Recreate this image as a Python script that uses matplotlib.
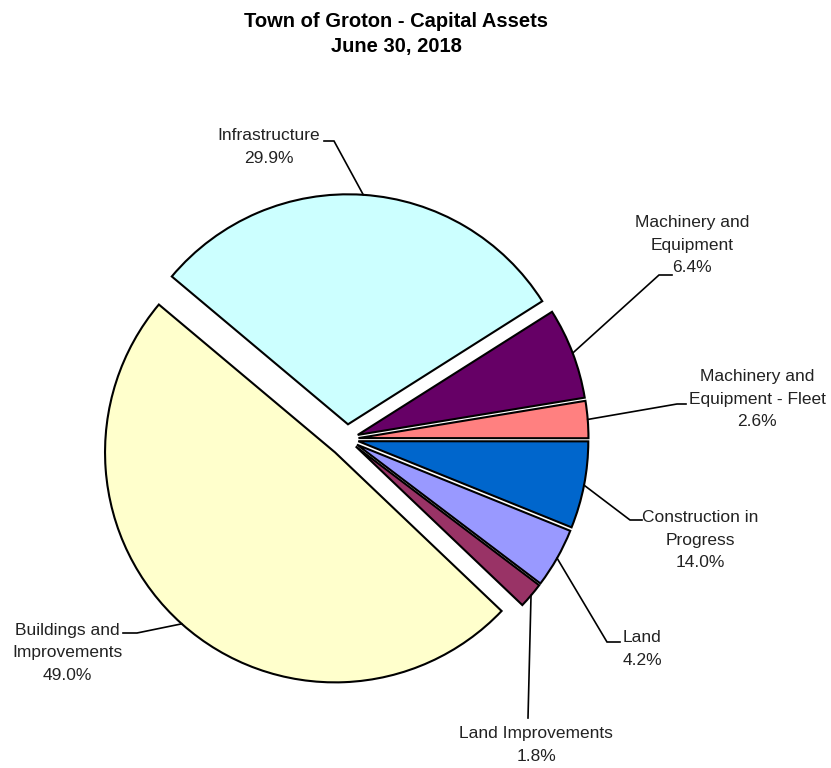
import numpy as np
import matplotlib
matplotlib.use("Agg")
import matplotlib.pyplot as plt

# slice data, clockwise from the top-left
names = ["Infrastructure", "Machinery and\nEquipment", "Machinery and\nEquipment - Fleet",
         "Construction in\nProgress", "Land", "Land Improvements", "Buildings and\nImprovements"]
shares = [29.9, 6.4, 2.6, 6.1, 4.2, 1.8, 49.0]        # drawn slice sizes
pct_labels = ["29.9%", "6.4%", "2.6%", "14.0%", "4.2%", "1.8%", "49.0%"]
colors = ["#CCFFFF", "#660066", "#FF8080", "#0066CC", "#9999FF", "#993366", "#FFFFCC"]
explode = [0.064, 0.05, 0.05, 0.05, 0.05, 0.05, 0.078]

W, H = 831, 768
R_PX = 230.0
CX, CY = 347, 439


def px(x, y):
    # image pixel -> data units (pie radius = 1)
    return (x - CX) / R_PX, (CY - y) / R_PX


# label layout: text centre, elbow point, line end next to the text (pixels)
label_pos = [(269, 147), (692, 245), (757, 399), (700, 540), (642, 649), (536, 745), (67, 653)]
elbows = [(334, 141), (659, 275), (677, 404), (630, 520), (607, 642), (528, 718), (137, 633)]
ends = [(324, 141), (672, 275), (686, 404), (642, 520), (620, 642), (528, 718), (123, 633)]

fig = plt.figure(figsize=(W / 100, H / 100), dpi=100)
ax = fig.add_axes([0, 0, 1, 1])

wedges, _ = ax.pie(shares, colors=colors, explode=explode, startangle=140,
                   counterclock=False, radius=1,
                   wedgeprops=dict(edgecolor="black", linewidth=1.5))
ax.set_xlim(-CX / R_PX, (W - CX) / R_PX)
ax.set_ylim(-(H - CY) / R_PX, CY / R_PX)
ax.set_aspect("equal")
ax.axis("off")

for i, w in enumerate(wedges):
    mid = np.deg2rad((w.theta1 + w.theta2) / 2)
    cx, cy = w.center
    start = (cx + w.r * np.cos(mid), cy + w.r * np.sin(mid))
    ex, ey = px(*elbows[i])
    nx, ny = px(*ends[i])
    ax.plot([start[0], ex, nx], [start[1], ey, ny], color="black", lw=1.2,
            solid_joinstyle="miter")
    tx, ty = px(*label_pos[i])
    ax.text(tx, ty, names[i] + "\n" + pct_labels[i], ha="center", va="center",
            fontsize=12.5, color="#222222", linespacing=1.6,
            family=["Liberation Sans", "DejaVu Sans"])

fig.text(396 / W, 1 - 34 / H, "Town of Groton - Capital Assets\nJune 30, 2018",
         ha="center", va="center", fontsize=14.5, fontweight="bold", linespacing=1.45,
         family=["Liberation Sans Narrow", "Liberation Sans", "DejaVu Sans"])

fig.savefig("out.png", dpi=100)
